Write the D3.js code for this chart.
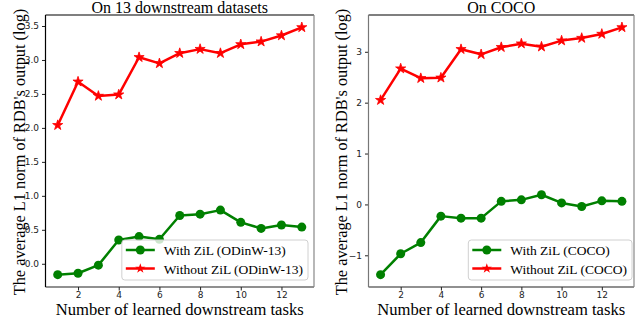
<!DOCTYPE html>
<html>
<head>
<meta charset="utf-8">
<script src="https://cdn.jsdelivr.net/npm/d3@7"></script>
<style>
  body { margin: 0; background: #fff; }
  svg { display: block; }
  .tick text { font-family: "DejaVu Sans", sans-serif; font-size: 9px; fill: #222; }
  .serif { font-family: "Liberation Serif", "Times New Roman", serif; fill: #000; }
</style>
</head>
<body>
<div id="chart"></div>
<script>
// x values: number of learned downstream tasks
const tasks = [1, 2, 3, 4, 5, 6, 7, 8, 9, 10, 11, 12, 13];

// left panel: on 13 downstream datasets
const odinwWithZiL = [-0.16, -0.14, -0.02, 0.35, 0.40, 0.36, 0.71, 0.73, 0.79, 0.61, 0.52, 0.57, 0.54];
const odinwWithoutZiL = [2.04, 2.68, 2.47, 2.49, 3.04, 2.95, 3.10, 3.16, 3.10, 3.23, 3.27, 3.36, 3.48];

// right panel: on COCO
const cocoWithZiL = [-1.38, -0.97, -0.75, -0.23, -0.27, -0.27, 0.06, 0.09, 0.19, 0.03, -0.04, 0.07, 0.06];
const cocoWithoutZiL = [2.05, 2.67, 2.48, 2.49, 3.05, 2.95, 3.09, 3.16, 3.10, 3.22, 3.27, 3.35, 3.48];

const xTicks = [2, 4, 6, 8, 10, 12];
const leftYTicks = [0, 0.5, 1, 1.5, 2, 2.5, 3, 3.5];
const rightYTicks = [-1, 0, 1, 2, 3];

const W = 635, H = 324;
const GREEN = "#008000", RED = "#ff0000";

const svg = d3.select("#chart").append("svg")
  .attr("width", W)
  .attr("height", H);

const panels = [
  {
    title: "On 13 downstream datasets",
    left: 45.5, right: 314, top: 15, bottom: 287,
    withZiL: odinwWithZiL, withoutZiL: odinwWithoutZiL,
    yTicks: leftYTicks, yFormat: d3.format(".1f"),
    labels: ["With ZiL (ODinW-13)", "Without ZiL (ODinW-13)"],
    yLabelX: 25,
    legendGap: 6,
    leftSpine: "#000"
  },
  {
    title: "On COCO",
    left: 368.5, right: 634, top: 15, bottom: 287,
    withZiL: cocoWithZiL, withoutZiL: cocoWithoutZiL,
    yTicks: rightYTicks, yFormat: d3.format("d"),
    labels: ["With ZiL (COCO)", "Without ZiL (COCO)"],
    yLabelX: 347,
    legendGap: 2,
    leftSpine: "#777"
  }
];

panels.forEach((p) => {
  const g = svg.append("g");

  // matplotlib style autoscale: 5% margins around data
  const all = p.withZiL.concat(p.withoutZiL);
  const [lo, hi] = d3.extent(all);
  const pad = (hi - lo) * 0.05;

  const x = d3.scaleLinear().domain([1 - 0.6, 13 + 0.6]).range([p.left, p.right]);
  const y = d3.scaleLinear().domain([lo - pad, hi + pad]).range([p.bottom, p.top]);

  // axes
  g.append("g")
    .attr("transform", `translate(0, ${p.bottom})`)
    .call(d3.axisBottom(x).tickValues(xTicks).tickSize(3.5).tickPadding(1.5).tickSizeOuter(0))
    .call((a) => a.select(".domain").remove());

  g.append("g")
    .attr("transform", `translate(${p.left}, 0)`)
    .call(d3.axisLeft(y).tickValues(p.yTicks).tickFormat(p.yFormat).tickSize(3.5).tickPadding(3).tickSizeOuter(0))
    .call((a) => a.select(".domain").remove());

  g.selectAll(".tick line").attr("stroke", "#222");

  // spines
  const spine = (x1, y1, x2, y2, c) =>
    g.append("line")
      .attr("x1", x1).attr("y1", y1).attr("x2", x2).attr("y2", y2)
      .attr("stroke", c).attr("stroke-width", 1.2);
  spine(p.left, p.top, p.right, p.top, "#000");
  spine(p.left, p.bottom, p.right, p.bottom, "#222");
  spine(p.right, p.top, p.right, p.bottom, "#888");
  spine(p.left, p.top, p.left, p.bottom, p.leftSpine);

  // lines
  const line = d3.line()
    .x((d, i) => x(tasks[i]))
    .y((d) => y(d));

  g.append("path")
    .attr("d", line(p.withoutZiL))
    .attr("fill", "none")
    .attr("stroke", RED)
    .attr("stroke-width", 2.5)
    .attr("stroke-linejoin", "round");

  g.selectAll(".star")
    .data(p.withoutZiL)
    .join("path")
    .attr("class", "star")
    .attr("d", d3.symbol(d3.symbolStar, 32))
    .attr("transform", (d, i) => `translate(${x(tasks[i])}, ${y(d)})`)
    .attr("fill", RED)
    .attr("stroke", RED)
    .attr("stroke-width", 0.8);

  g.append("path")
    .attr("d", line(p.withZiL))
    .attr("fill", "none")
    .attr("stroke", GREEN)
    .attr("stroke-width", 2.5)
    .attr("stroke-linejoin", "round");

  g.selectAll(".dot")
    .data(p.withZiL)
    .join("circle")
    .attr("class", "dot")
    .attr("cx", (d, i) => x(tasks[i]))
    .attr("cy", (d) => y(d))
    .attr("r", 4.5)
    .attr("fill", GREEN);

  // title
  g.append("text")
    .attr("class", "serif")
    .attr("x", (p.left + p.right) / 2)
    .attr("y", 12.5)
    .attr("text-anchor", "middle")
    .style("font-size", "16px")
    .text(p.title);

  // x label
  g.append("text")
    .attr("class", "serif")
    .attr("x", (p.left + p.right) / 2)
    .attr("y", 315)
    .attr("text-anchor", "middle")
    .style("font-size", "16.6px")
    .text("Number of learned downstream tasks");

  // y label
  g.append("text")
    .attr("class", "serif")
    .attr("transform", `translate(${p.yLabelX}, ${(p.top + p.bottom) / 2 + 1}) rotate(-90)`)
    .attr("text-anchor", "middle")
    .style("font-size", "16.3px")
    .text("The average L1 norm of RDB's output (log)");

  // legend (lower right)
  const lg = g.append("g");
  const box = lg.append("rect")
    .attr("rx", 3)
    .attr("fill", "#fff")
    .attr("fill-opacity", 0.8)
    .attr("stroke", "#d0d0d0")
    .attr("stroke-width", 1);

  const items = [
    { label: p.labels[0], color: GREEN, marker: "circle" },
    { label: p.labels[1], color: RED, marker: "star" }
  ];

  let maxW = 0;
  const texts = items.map((it) => {
    const t = lg.append("text")
      .attr("class", "serif")
      .style("font-size", "13.5px")
      .text(it.label);
    maxW = Math.max(maxW, t.node().getComputedTextLength());
    return t;
  });

  const boxW = 42 + maxW + 5;
  const boxH = 40;
  const bx = p.right - p.legendGap - boxW;
  const by = p.bottom - 7 - boxH;
  box.attr("x", bx).attr("y", by).attr("width", boxW).attr("height", boxH);

  items.forEach((it, i) => {
    const ry = by + 10 + i * 18.5;
    lg.append("line")
      .attr("x1", bx + 4).attr("x2", bx + 33)
      .attr("y1", ry).attr("y2", ry)
      .attr("stroke", it.color)
      .attr("stroke-width", 2.5);
    if (it.marker === "circle") {
      lg.append("circle")
        .attr("cx", bx + 18.5).attr("cy", ry).attr("r", 4.5)
        .attr("fill", it.color);
    } else {
      lg.append("path")
        .attr("d", d3.symbol(d3.symbolStar, 32))
        .attr("transform", `translate(${bx + 18.5}, ${ry})`)
        .attr("fill", it.color);
    }
    texts[i].attr("x", bx + 42).attr("y", ry + 5);
  });
});
</script>
</body>
</html>
